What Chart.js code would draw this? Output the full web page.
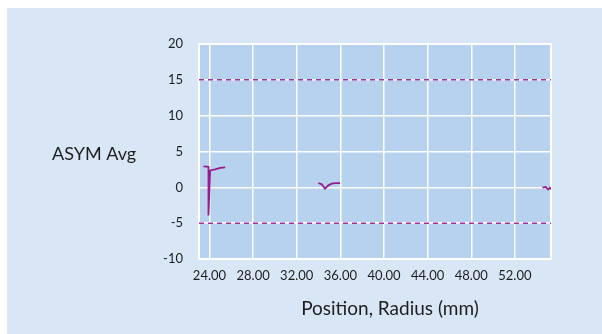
<!DOCTYPE html>
<html><head><meta charset="utf-8">
<script src="https://cdn.jsdelivr.net/npm/chart.js@4/dist/chart.umd.min.js"></script>
<style>html,body{margin:0;padding:0;background:#fff}#wrap{width:602px;height:334px;position:relative}</style>
</head><body><div id="wrap"><canvas id="c" width="602" height="334"></canvas></div>
<script>
const xTickValues = [24, 28, 32, 36, 40, 44, 48, 52];
const yTickValues = [-10, -5, 0, 5, 10, 15, 20];
const seg1X = [23.45, 23.91, 23.91, 24.06, 24.52, 24.98, 25.44];
const seg1Y = [2.92, 2.85, -3.93, 2.36, 2.5, 2.7, 2.8];
const seg2X = [33.98, 34.29, 34.59, 34.90, 35.21, 35.51, 35.97];
const seg2Y = [0.6, 0.42, -0.18, 0.28, 0.51, 0.6, 0.6];
const seg3X = [54.53, 54.83, 55.04, 55.2, 55.35];
const seg3Y = [-0.05, 0.05, -0.3, -0.05, -0.3];
const upperLimit = 15;
const lowerLimit = -5;
const xMin = 23.04, xMax = 55.31;
const yTitle = 'ASYM Avg';
const xTitle = 'Position, Radius (mm)';

function pts(xs, ys){ return xs.map((x,i)=>({x:x,y:ys[i]})); }
const lineData = [].concat(pts(seg1X,seg1Y), [{x:NaN,y:null}], pts(seg2X,seg2Y), [{x:NaN,y:null}], pts(seg3X,seg3Y));

const bgPlugin = {
  id:'bg',
  beforeDraw(chart){
    const ctx = chart.ctx, a = chart.chartArea;
    ctx.save();
    ctx.fillStyle = '#ffffff';
    ctx.fillRect(0,0,chart.width,chart.height);
    ctx.fillStyle = '#d9e6f5';
    ctx.fillRect(7,8,chart.width-7,chart.height-8);
    ctx.fillStyle = '#b7d2ee';
    ctx.fillRect(a.left,a.top,a.right-a.left,a.bottom-a.top);
    ctx.restore();
  },
  afterDraw(chart){
    const ctx = chart.ctx;
    ctx.save();
    ctx.fillStyle = '#1e1e1e';
    ctx.font = '18px Lato';
    ctx.textAlign = 'left';
    ctx.textBaseline = 'middle';
    ctx.fillText(yTitle, 52, 154);
    ctx.font = '19px Lato';
    ctx.textAlign = 'center';
    ctx.fillText(xTitle, 390, 309);
    ctx.restore();
  },
  beforeDatasetsDraw(chart){
    const ctx = chart.ctx, a = chart.chartArea;
    ctx.save();
    ctx.strokeStyle = '#ffffff';
    ctx.lineWidth = 2;
    ctx.strokeRect(a.left, a.top, a.right-a.left, a.bottom-a.top);
    ctx.restore();
  }
};

new Chart(document.getElementById('c'), {
  type:'line',
  data:{datasets:[
    {data:lineData, borderColor:'#981c8c', borderWidth:1.8, pointRadius:0, spanGaps:false, tension:0},
    {data:[{x:xMin,y:upperLimit},{x:xMax,y:upperLimit}], borderColor:'#a2309f', borderWidth:1.5, borderDash:[5,4], pointRadius:0},
    {data:[{x:xMin,y:lowerLimit},{x:xMax,y:lowerLimit}], borderColor:'#a2309f', borderWidth:1.5, borderDash:[5,4], pointRadius:0}
  ]},
  options:{
    responsive:false, animation:false, devicePixelRatio:1,
    layout:{padding:{top:44,right:51,bottom:0,left:0}},
    plugins:{legend:{display:false},tooltip:{enabled:false}},
    scales:{
      x:{type:'linear', min:xMin, max:xMax,
        afterBuildTicks(s){ s.ticks = xTickValues.map(v=>({value:v})); },
        afterFit(s){ s.height = 75; },
        grid:{color:'#ffffff', lineWidth:1.5, drawTicks:false},
        border:{display:false},
        ticks:{padding:9, color:'#1e1e1e', font:{family:'Lato', size:13}, maxRotation:0, autoSkip:false,
          callback:v=>Number(v).toFixed(2)}
      },
      y:{type:'linear', min:-10, max:20,
        afterBuildTicks(s){ s.ticks = yTickValues.map(v=>({value:v})); },
        afterFit(s){ s.width = 199; },
        grid:{color:'#ffffff', lineWidth:1.5, drawTicks:false},
        border:{display:false},
        ticks:{padding:16, color:'#1e1e1e', font:{family:'Lato', size:13}}
      }
    }
  },
  plugins:[bgPlugin]
});
</script></body></html>
